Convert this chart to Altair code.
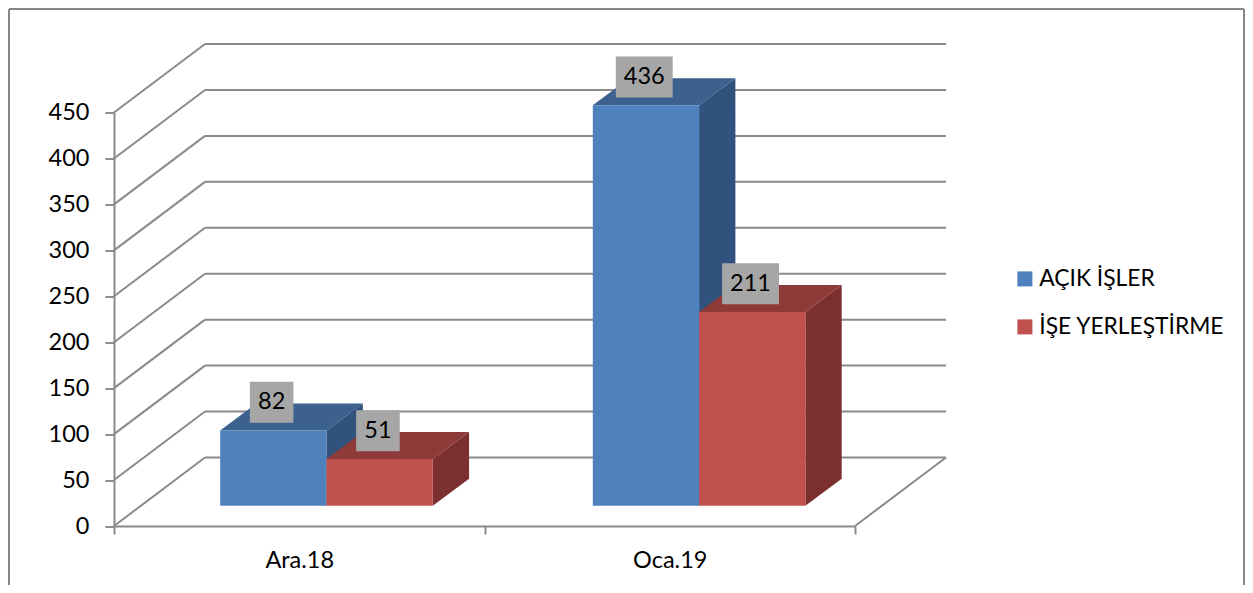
import altair as alt
import pandas as pd

# --- chart values -----------------------------------------------------------
categories = ["Ara.18", "Oca.19"]
series_names = ["AÇIK İŞLER", "İŞE YERLEŞTİRME"]
acik_isler = [82, 436]
ise_yerlestirme = [51, 211]
y_ticks = [0, 50, 100, 150, 200, 250, 300, 350, 400, 450]

# --- pseudo-3D geometry, in data units (x: categories, y: value) -------------
PW, PH = 741, 413.5
ux, uy = PW / 2, PH / 450            # pixels per data unit
WALL_X, WALL_Y = 91 / ux, 68.5 / uy  # depth of the chart box
DEPTH_X, DEPTH_Y = 36.3 / ux, 27 / uy  # depth of a bar
BASE_Y = 22.0                        # bars stand in the middle of the floor
BAR_W = 106.3 / ux
BAR_START, CAT_STEP = 0.2866, 1.0057
GRID = "#8a8a8a"
FONT = "Lato"
FS = 23.5

colors = {
    series_names[0]: dict(front="#4F81BD", side="#31527D", top="#3C618F"),
    series_names[1]: dict(front="#C0504D", side="#7B2F2E", top="#8E3A38"),
}

X = alt.Scale(domain=[0, 2], nice=False, zero=False)
Y = alt.Scale(domain=[0, 450], nice=False, zero=False)

x_axis = alt.Axis(
    values=[0, 0.5, 1, 1.5, 2],
    labelExpr=f"datum.value == 0.5 ? '{categories[0]}' : datum.value == 1.5 ? '{categories[1]}' : ''",
    tickOpacity={"condition": {"test": "datum.value % 1 === 0", "value": 1}, "value": 0},
    grid=False, domain=True, domainColor=GRID, domainWidth=2,
    tickColor=GRID, tickWidth=2, tickSize=8,
    labelFont=FONT, labelFontSize=FS, labelColor="#000000",
    labelPadding=14, labelOverlap=False, labelFlush=False, labelBound=False,
)
y_axis = alt.Axis(
    values=y_ticks, grid=False, domain=True, domainColor=GRID, domainWidth=2,
    tickColor=GRID, tickWidth=2, tickSize=9,
    labelFont=FONT, labelFontSize=FS, labelColor="#000000", labelPadding=16,
    labelOverlap=False, labelFlush=False, labelBound=False,
)


def xq(field="x"):
    return alt.X(f"{field}:Q", scale=X, axis=x_axis, title=None)


def yq(field="y"):
    return alt.Y(f"{field}:Q", scale=Y, axis=y_axis, title=None)


# grid: slanted wall lines, horizontal back lines, floor edge
grid_rows = []
for v in y_ticks:
    grid_rows.append(dict(x=0, x2=WALL_X, y=v, y2=v + WALL_Y))
    grid_rows.append(dict(x=WALL_X, x2=2 + WALL_X, y=v + WALL_Y, y2=v + WALL_Y))
grid_rows.append(dict(x=2, x2=2 + WALL_X, y=0, y2=WALL_Y))

layers = [
    alt.Chart(pd.DataFrame(grid_rows)).mark_rule(color=GRID, strokeWidth=2).encode(
        x=xq(), x2="x2:Q", y=yq(), y2="y2:Q"
    )
]

# bars, painted series by series so the red blocks overlap the blue sides
label_rows = []
for s, (name, vals) in enumerate(zip(series_names, [acik_isler, ise_yerlestirme])):
    c = colors[name]
    front, side, top = [], [], []
    for i, (cat, v) in enumerate(zip(categories, vals)):
        l = BAR_START + i * CAT_STEP + s * BAR_W
        r = l + BAR_W
        t = BASE_Y + v
        front.append(dict(x=l, x2=r, y=BASE_Y, y2=t, series=name))
        side += [
            dict(bar=i, x=r, y=BASE_Y, y2=t),
            dict(bar=i, x=r + DEPTH_X, y=BASE_Y + DEPTH_Y, y2=t + DEPTH_Y),
        ]
        top += [
            dict(bar=i, y=t, x=l, x2=r),
            dict(bar=i, y=t + DEPTH_Y, x=l + DEPTH_X, x2=r + DEPTH_X),
        ]
        hw = (13.3 * len(str(v)) + 17) / 2 / ux
        cx = (l + r) / 2 - 1.7 / ux
        cy = t + 28.2 / uy
        label_rows.append(dict(x=cx - hw, x2=cx + hw, xc=cx,
                               y=cy - 20.5 / uy, y2=cy + 20.5 / uy, yc=cy, label=str(v)))
    layers.append(
        alt.Chart(pd.DataFrame(side)).mark_area(color=c["side"], interpolate="linear", line=False).encode(
            x=xq(), y=yq(), y2="y2:Q", detail="bar:N"
        )
    )
    layers.append(
        alt.Chart(pd.DataFrame(top)).mark_area(color=c["top"], orient="horizontal", interpolate="linear").encode(
            y=yq(), x=xq(), x2="x2:Q", detail="bar:N",
        )
    )
    layers.append(
        alt.Chart(pd.DataFrame(front)).mark_rect().encode(
            x=xq(), x2="x2:Q", y=yq(), y2="y2:Q",
            color=alt.Color(
                "series:N",
                scale=alt.Scale(domain=series_names,
                                range=[colors[n]["front"] for n in series_names]),
                legend=alt.Legend(
                    title=None, orient="none", legendX=899.5, legendY=155,
                    symbolType="square", symbolSize=225, symbolStrokeWidth=0,
                    labelFont=FONT, labelFontSize=22.8, labelColor="#000000",
                    labelOffset=3, rowPadding=24, labelLimit=400,
                ),
            ),
        )
    )

labels = pd.DataFrame(label_rows)
layers.append(
    alt.Chart(labels).mark_rect(color="#A6A6A6").encode(
        x=xq(), x2="x2:Q", y=yq(), y2="y2:Q"
    )
)
layers.append(
    alt.Chart(labels).mark_text(font=FONT, fontSize=FS, color="#000000").encode(
        x=xq("xc"), y=yq("yc"), text="label:N",
    )
)

# chart frame
FRAME = "#868686"
frame_df = pd.DataFrame({"k": [0]})
layers.append(alt.Chart(frame_df).mark_rule(color=FRAME, strokeWidth=2).encode(
    x=alt.value(-105), x2=alt.value(1130), y=alt.value(-103.5)))
layers.append(alt.Chart(frame_df).mark_rule(color=FRAME, strokeWidth=2).encode(
    x=alt.value(-105), y=alt.value(-103.5), y2=alt.value(472.5)))
layers.append(alt.Chart(frame_df).mark_rule(color=FRAME, strokeWidth=2).encode(
    x=alt.value(1130), y=alt.value(-103.5), y2=alt.value(472.5)))

chart = alt.layer(*layers).properties(
    width=PW, height=PH,
    padding={"left": 106, "top": 104.5, "right": 390, "bottom": 59},
    autosize=alt.AutoSizeParams(type="none"),
    background="#ffffff",
).configure_view(stroke=None)

chart.save("out.html", embed_options={"renderer": "svg", "actions": False})
